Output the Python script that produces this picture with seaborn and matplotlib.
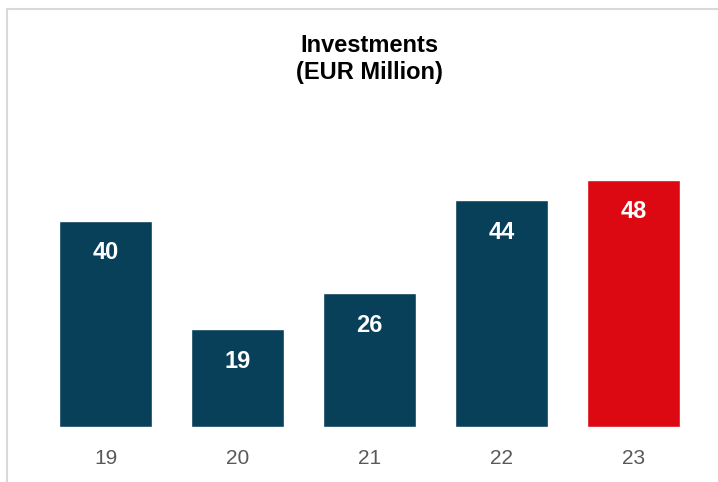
import matplotlib
matplotlib.use("Agg")
import matplotlib.pyplot as plt
import seaborn as sns
import pandas as pd
from matplotlib.patches import Rectangle

# Chart data
years = ["19", "20", "21", "22", "23"]
investments = [40, 19, 26, 44, 48]
bar_colors = ["#083F59", "#083F59", "#083F59", "#083F59", "#DC0812"]

df = pd.DataFrame({"year": years, "value": investments})

sns.set_style("white")
plt.rcParams["font.family"] = ["Liberation Sans", "DejaVu Sans"]

W, H = 718, 482
fig = plt.figure(figsize=(W / 100, H / 100), dpi=100)

# light frame around the chart area (runs off the right and bottom edge)
fig.patches.append(Rectangle((7 / W, -0.1), 1.2, 1 - 9 / H + 0.1,
                             transform=fig.transFigure, fill=False,
                             edgecolor="#D9D9D9", linewidth=1.5))

# axes placed so that bar slots are 132 px apart with baseline at y=427
left, right = 39.5, 699.5
bottom, top = 427, 118
ax = fig.add_axes([left / W, 1 - bottom / H, (right - left) / W, (bottom - top) / H])

sns.barplot(data=df, x="year", y="value", hue="year", palette=bar_colors,
            width=0.71, legend=False, ax=ax, saturation=1)

ax.set_ylim(0, 60)
ax.set_xlim(-0.5, 4.5)
ax.set_xlabel("")
ax.set_ylabel("")
ax.set_yticks([])
ax.tick_params(axis="x", length=0, pad=16, labelsize=15, labelcolor="#595959")
sns.despine(ax=ax, left=True, bottom=True)
ax.patch.set_alpha(0)

for i, v in enumerate(investments):
    ax.annotate(str(v), (i, v), xytext=(0, -23), textcoords="offset points",
                ha="center", va="center", color="white",
                fontsize=17, fontweight="bold")

title_x = 369 / W
fig.text(title_x, 1 - 45 / H, "Investments", ha="center", va="center",
         fontsize=17, fontweight="bold", color="black")
fig.text(title_x, 1 - 73 / H, "(EUR Million)", ha="center", va="center",
         fontsize=17, fontweight="bold", color="black")

fig.savefig("out.png", dpi=100)
